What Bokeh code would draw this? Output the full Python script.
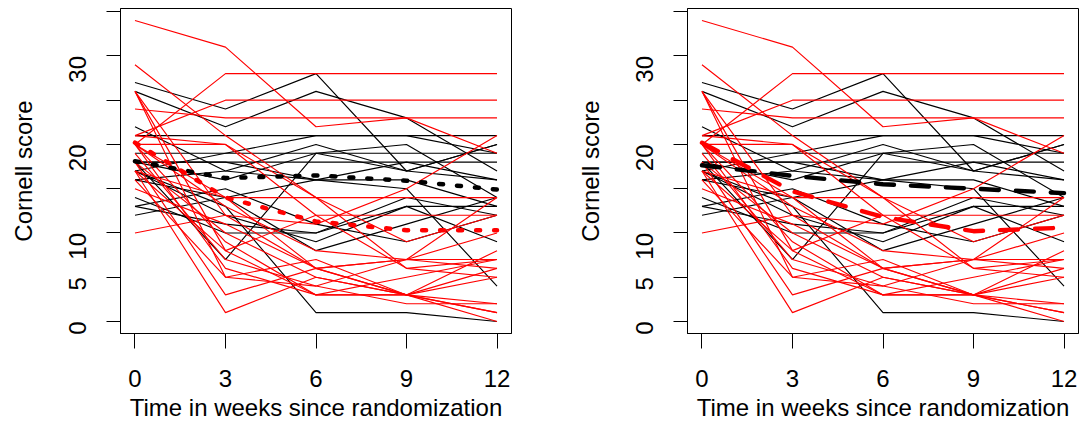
import math
from bokeh.plotting import figure
from bokeh.models import FixedTicker, Range1d, ColumnDataSource
from bokeh.layouts import row
from bokeh.embed import file_html
from bokeh.resources import INLINE

# ---------------- data ----------------
weeks = [0, 3, 6, 9, 12]

# Cornell score per subject at weeks 0, 3, 6, 9, 12 (black group)
black_subjects = [
    [27, 24, 28, 17, 20],
    [26, 22, 26, 23, 17],
    [22, 17, 16, 18, 16],
    [21, 21, 21, 21, 21],
    [17, 19, 21, 21, 19],
    [14, 10, 10, 13, 13],
    [17, 13, 1, 1, 0],
    [18, 18, 16, 15, 4],
    [18, 7, 19, 20, 14],
    [19, 19, 19, 19, 19],
    [18, 18, 18, 18, 18],
    [16, 14, 8, 11, 14],
    [13, 15, 11, 9, 12],
    [12, 14, 16, 16, 13],
    [16, 17, 20, 17, 20],
    [17, 12, 9, 13, 9],
    [13, 11, 10, 14, 12],
    [18, 16, 19, 17, 16],
]

# Cornell score per subject at weeks 0, 3, 6, 9, 12 (red group)
red_subjects = [
    [34, 31, 22, 23, 19],
    [29, 21, 14, 6, 7],
    [20, 28, 28, 28, 28],
    [21, 25, 25, 25, 25],
    [24, 23, 23, 23, 23],
    [26, 12, 6, 3, 2],
    [26, 8, 3, 3, 1],
    [26, 5, 4, 7, 7],
    [17, 14, 14, 14, 14],
    [20, 20, 12, 12, 12],
    [17, 1, 5, 3, 8],
    [18, 3, 6, 3, 0],
    [20, 6, 3, 3, 5],
    [19, 7, 4, 2, 2],
    [15, 11, 6, 7, 10],
    [10, 12, 11, 15, 21],
    [20, 14, 6, 7, 6],
    [16, 5, 7, 3, 6],
    [20, 9, 3, 5, 7],
    [21, 20, 14, 9, 12],
    [17, 8, 12, 6, 5],
    [18, 10, 5, 3, 1],
    [20, 13, 8, 7, 14],
]

# observed group means (left panel, dotted)
black_mean = [18.1, 16.2, 16.5, 15.9, 14.9]
red_mean = [20.2, 14.0, 11.3, 10.3, 10.3]

# fitted group means (right panel, dashed)
black_fit = [17.65, 16.45, 15.5, 15.0, 14.5]
red_fit = [20.2, 14.7, 11.8, 10.2, 10.6]

x_ticks = [0, 3, 6, 9, 12]
y_ticks = [0, 5, 10, 15, 20, 25, 30, 35]
y_hidden = [15, 25, 35]

x_title = "Time in weeks since randomization"
y_title = "Cornell score"

FONT = "Liberation Sans"
FS = "24px"


def make_panel(width, border_left, border_right, bmean, rmean, dash, lw):
    p = figure(
        width=width, height=423,
        x_range=Range1d(-0.48, 12.48), y_range=Range1d(-1.36, 35.36),
        output_backend="svg", toolbar_location=None,
        min_border_left=border_left, min_border_right=border_right,
        min_border_top=8, min_border_bottom=88,
        background_fill_color="white", border_fill_color="white",
    )
    p.xgrid.visible = False
    p.ygrid.visible = False
    p.outline_line_color = "black"
    p.outline_line_width = 1
    p.outline_line_alpha = 1

    for ax in (p.xaxis[0], p.yaxis[0]):
        ax.axis_line_color = "black"
        ax.major_tick_line_color = "black"
        ax.minor_tick_line_color = None
        ax.major_tick_in = 0
        ax.major_label_text_font = FONT
        ax.major_label_text_font_size = FS
        ax.major_label_text_color = "black"
        ax.axis_label_text_font = FONT
        ax.axis_label_text_font_size = FS
        ax.axis_label_text_font_style = "normal"
        ax.axis_label_text_color = "black"

    p.xaxis.ticker = FixedTicker(ticks=x_ticks)
    p.xaxis.major_tick_out = 15
    p.xaxis.major_label_standoff = 21
    p.xaxis.axis_label = x_title
    p.xaxis.axis_label_standoff = 4

    p.yaxis.ticker = FixedTicker(ticks=y_ticks)
    p.yaxis.major_tick_out = 14
    p.yaxis.major_label_standoff = 29
    p.yaxis.major_label_orientation = math.pi / 2
    p.yaxis.major_label_overrides = {v: "" for v in y_hidden}
    p.yaxis.axis_label = y_title
    p.yaxis.axis_label_standoff = 21

    bsrc = ColumnDataSource(dict(xs=[weeks] * len(black_subjects), ys=black_subjects))
    rsrc = ColumnDataSource(dict(xs=[weeks] * len(red_subjects), ys=red_subjects))
    p.multi_line("xs", "ys", source=bsrc, line_color="black", line_width=1.15)
    p.multi_line("xs", "ys", source=rsrc, line_color="red", line_width=1.15)

    p.line(weeks, bmean, line_color="black", line_width=lw, line_dash=dash, line_cap="round")
    p.line(weeks, rmean, line_color="red", line_width=lw, line_dash=dash, line_cap="round")
    return p


left = make_panel(565, 120, 54, black_mean, red_mean, "4 14", 4.5)
right = make_panel(516, 122, 3, black_fit, red_fit, "18 17", 4.4)

layout = row(left, right)
open("out.html", "w").write(file_html(layout, INLINE))
